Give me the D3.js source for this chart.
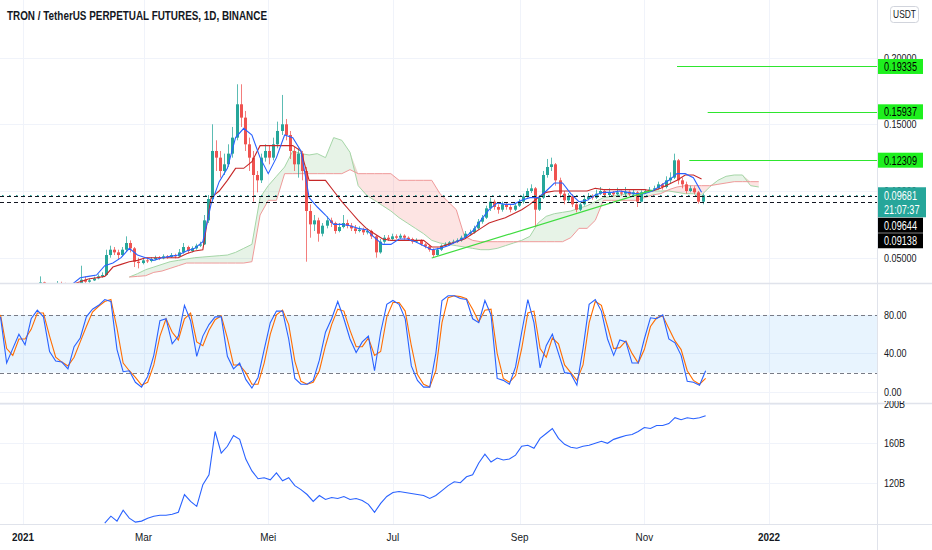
<!DOCTYPE html>
<html><head><meta charset="utf-8">
<script src="https://cdn.jsdelivr.net/npm/d3@7/dist/d3.min.js"></script>
<style>html,body{margin:0;padding:0;background:#fff}svg{display:block}text{font-family:"Liberation Sans",Arial,sans-serif}</style>
</head><body><svg id="c" width="932" height="550"></svg>
<script>
// ---------- DATA ----------
const title = "TRON / TetherUS PERPETUAL FUTURES, 1D, BINANCE";
const currency = "USDT";
// 2-day candles starting 2021-01-01
const firstOpen = 0.0262;
const closes = [
.0267,.0290,.0280,.0300,.0315,.0275,.0285,.0295,.0310,.0305,
.0285,.0280,.0295,.0300,.0335,.0320,.0330,.0345,.0360,.0370,
.0520,.0560,.0540,.0520,.0560,.0610,.0570,.0470,.0460,.0480,
.0475,.0490,.0500,.0495,.0510,.0505,.0520,.0510,.0540,.0580,
.0550,.0570,.0590,.0600,.0780,.0940,.1300,.1250,.1150,.1200,
.1280,.1400,.1650,.1550,.1350,.1250,.1120,.1080,.1250,.1300,
.1250,.1350,.1450,.1500,.1420,.1300,.1200,.1280,.1150,.0850,
.0750,.0780,.0680,.0740,.0780,.0760,.0700,.0730,.0760,.0740,
.0720,.0700,.0710,.0690,.0700,.0660,.0540,.0620,.0650,.0640,
.0660,.0650,.0665,.0650,.0640,.0620,.0630,.0600,.0585,.0560,
.0520,.0560,.0590,.0600,.0615,.0620,.0630,.0650,.0680,.0690,
.0720,.0770,.0800,.0870,.0920,.0880,.0860,.0900,.0880,.0860,
.0890,.0920,.0960,.1000,.1020,.0860,.0950,.1120,.1180,.1200,
.1080,.0980,.0930,.0960,.0900,.0860,.0900,.0940,.0960,.0950,
.0980,.1000,.0970,.0990,.0975,.0990,.0980,.0995,.0975,.0990,
.0920,.0990,.1000,.1010,.1020,.1050,.1030,.1080,.1100,.1230,
.1080,.1050,.1000,.1020,.0990,.0920,.0968];
const highs = [
.0285,.0300,.0298,.0310,.0360,.0320,.0295,.0305,.0325,.0320,
.0312,.0292,.0302,.0310,.0440,.0360,.0345,.0358,.0375,.0390,
.0560,.0590,.0580,.0560,.0580,.0660,.0630,.0580,.0500,.0495,
.0500,.0505,.0515,.0512,.0525,.0520,.0535,.0530,.0565,.0610,
.0590,.0585,.0605,.0620,.0820,.0970,.1500,.1380,.1300,.1280,
.1350,.1480,.1800,.1800,.1600,.1400,.1300,.1150,.1280,.1350,
.1340,.1400,.1520,.1720,.1540,.1450,.1330,.1320,.1300,.1180,
.0900,.0820,.0800,.0760,.0810,.0800,.0770,.0760,.0820,.0785,
.0760,.0745,.0735,.0725,.0720,.0710,.0670,.0640,.0670,.0670,
.0680,.0675,.0680,.0675,.0660,.0650,.0645,.0638,.0610,.0595,
.0570,.0575,.0600,.0615,.0625,.0635,.0645,.0665,.0700,.0710,
.0740,.0790,.0820,.0890,.0950,.0935,.0900,.0920,.0915,.0895,
.0905,.0940,.0980,.1020,.1050,.1030,.0970,.1150,.1240,.1250,
.1210,.1100,.1000,.0985,.0975,.0920,.0915,.0955,.0985,.0975,
.1010,.1030,.1010,.1020,.1000,.1025,.1005,.1030,.1005,.1010,
.1000,.1005,.1015,.1030,.1040,.1070,.1060,.1110,.1140,.1280,
.1240,.1100,.1070,.1040,.1035,.1000,.0980];
const lows = [
.0255,.0262,.0272,.0275,.0295,.0260,.0268,.0280,.0290,.0295,
.0275,.0265,.0275,.0288,.0295,.0310,.0312,.0325,.0338,.0350,
.0365,.0500,.0520,.0490,.0510,.0550,.0540,.0430,.0420,.0450,
.0460,.0465,.0480,.0482,.0488,.0492,.0498,.0495,.0505,.0530,
.0535,.0540,.0560,.0580,.0595,.0760,.0920,.1150,.1100,.1120,
.1180,.1250,.1380,.1480,.1300,.1150,.0920,.0990,.1060,.1220,
.1200,.1230,.1320,.1420,.1380,.1240,.1150,.1100,.1080,.0470,
.0650,.0700,.0620,.0660,.0720,.0730,.0680,.0690,.0720,.0720,
.0700,.0680,.0690,.0670,.0675,.0640,.0500,.0530,.0605,.0625,
.0630,.0638,.0640,.0635,.0628,.0605,.0610,.0590,.0570,.0545,
.0500,.0515,.0550,.0580,.0590,.0605,.0610,.0620,.0640,.0665,
.0680,.0710,.0755,.0790,.0850,.0860,.0830,.0845,.0860,.0840,
.0850,.0880,.0905,.0950,.0985,.0730,.0850,.0940,.1100,.1150,
.1040,.0950,.0900,.0910,.0880,.0840,.0850,.0890,.0930,.0935,
.0940,.0970,.0955,.0960,.0960,.0965,.0965,.0970,.0960,.0965,
.0880,.0915,.0980,.0990,.1000,.1010,.1010,.1020,.1060,.1090,
.1050,.1020,.0980,.0990,.0975,.0905,.0900];
// Ichimoku conversion / base lines, every 4 days from day 20
const tenkan = [
.030,.030,.035,.036,.037,.044,.046,.050,.057,.052,
.050,.048,.050,.051,.052,.055,.057,.062,.090,.107,
.117,.140,.147,.142,.125,.113,.125,.142,.140,.130,
.095,.088,.082,.075,.075,.074,.072,.071,.065,.060,
.060,.064,.064,.062,.059,.056,.057,.059,.062,.065,
.070,.078,.086,.091,.090,.090,.093,.095,.095,.100,
.106,.106,.098,.092,.093,.097,.099,.099,.100,.099,
.098,.098,.100,.104,.108,.113,.113,.110,.099];
const kijun = [
.030,.030,.032,.034,.035,.036,.043,.045,.047,.048,
.050,.050,.050,.050,.050,.053,.055,.056,.095,.100,
.108,.117,.117,.122,.134,.134,.134,.134,.134,.130,
.108,.108,.108,.100,.092,.085,.078,.072,.068,.064,
.063,.063,.063,.063,.063,.058,.058,.060,.062,.064,
.068,.072,.076,.078,.080,.083,.086,.090,.095,.099,
.100,.100,.100,.100,.100,.102,.101,.101,.101,.101,
.101,.101,.100,.102,.105,.108,.112,.112,.109];
// Leading spans (already displaced), every 4 days from day 52
const spanA = [
.0355,.038,.041,.043,.045,.047,.048,.049,.050,.0505,
.051,.0515,.052,.054,.057,.060,.095,.104,.111,.118,
.130,.128,.127,.128,.125,.140,.138,.129,.104,.097,
.093,.089,.085,.080,.076,.072,.068,.063,.061,.060,
.059,.058,.057,.056,.056,.057,.059,.061,.063,.066,
.076,.081,.083,.084,.085,.087,.089,.092,.095,.096,
.097,.098,.098,.099,.100,.100,.100,.099,.098,.098,
.097,.103,.108,.111,.112,.112,.104,.103];
const spanB = [
.0355,.036,.0365,.039,.040,.042,.044,.046,.046,.046,
.046,.046,.046,.046,.046,.047,.082,.093,.093,.113,
.113,.113,.113,.113,.113,.113,.113,.116,.113,.113,
.113,.113,.113,.108,.108,.108,.108,.108,.098,.092,
.086,.066,.063,.062,.062,.062,.062,.062,.062,.062,
.062,.062,.062,.062,.065,.072,.072,.078,.093,.093,
.093,.093,.093,.095,.097,.098,.101,.103,.104,.104,
.104,.104,.105,.106,.107,.107,.107,.107];
// Stochastic, every 3 days from day -11
const stochK = [
78,30,45,60,49,76,85,78,42,32,
31,24,47,56,78,86,90,96,94,44,
21,22,10,5,16,38,74,76,50,58,
90,74,37,58,70,78,78,37,24,30,
13,4,15,44,72,84,84,55,14,8,
8,12,33,62,76,94,76,55,41,52,
58,22,62,91,95,91,76,27,12,5,
5,40,95,100,100,97,96,76,72,95,
80,14,12,8,26,62,96,72,25,48,
60,40,20,19,7,45,91,96,84,55,
38,54,52,30,30,55,77,76,80,55,
51,38,11,10,7,22];
const stochD = [
80,45,38,55,55,65,82,82,58,36,
31,27,36,52,68,83,89,94,96,66,
30,22,15,7,10,28,58,76,62,54,
76,82,52,48,64,75,79,56,28,28,
20,8,8,30,60,80,85,70,32,11,
8,10,22,48,70,86,84,64,47,47,
56,38,42,78,93,93,84,48,18,8,
5,22,72,98,100,99,97,86,73,85,
86,40,14,10,17,45,82,84,45,36,
56,50,28,20,12,28,72,94,90,68,
45,46,53,40,30,44,68,77,79,66,
53,44,22,12,8,14];
// lower pane line (billions), every 3 days from day 40
const obv = [
79,86,81,92,84,80,81,84,86,87,
87,88,90,108,101,96,118,128,172,150,
157,168,164,144,132,124,125,123,130,122,
125,117,113,108,101,107,103,105,104,106,
103,104,102,98,90,99,106,110,111,110,
109,108,107,104,107,112,117,121,120,126,
128,140,149,141,145,143,144,148,157,158,
155,165,170,175,165,159,156,155,157,158,
160,162,160,164,166,168,169,172,176,175,
178,178,180,186,184,186,185,186,188];
const priceTicks = [0.05, 0.10, 0.15, 0.20];
const stochTicks = [0, 40, 80];
const stochBand = [20, 80];
const obvTicks = [120, 160, 200];
const monthDates = ["2021-01-01","2021-03-01","2021-05-01","2021-07-01","2021-09-01","2021-11-01","2022-01-01"];
const monthLabels = ["2021","Mar","Mei","Jul","Sep","Nov","2022"];
const levels = [0.19335, 0.15937, 0.12309];
const levelStarts = ["2021-11-17","2021-12-02","2021-11-23"];
const trendDates = ["2021-07-20","2021-11-05"];
const trendPrices = [0.0498, 0.1007];
const lastPrice = 0.09681;
const countdown = "21:07:37";
const markLines = [0.09644, 0.09138];

// ---------- SETUP ----------
const svg = d3.select("#c");
const PR = 877;
const D0 = Date.UTC(2021,0,1), DAY = 864e5;
const dd = d => new Date(D0 + d*DAY);
const pd = d3.utcParse("%Y-%m-%d");
const x = d3.scaleUtc().domain([dd(0), dd(365)]).range([23, 769]);
const yP = d3.scaleLinear().domain([0.05, 0.20]).range([257.7, 57.6]);
const yS = d3.scaleLinear().domain([0, 100]).range([391.9, 295.7]);
const yO = d3.scaleLinear().domain([120, 160]).range([482.7, 443.3]);
const P = {top:0, bot:283}, S = {top:283, bot:403}, O = {top:403, bot:524};
const UP = "#26a69a", DN = "#ef5350", TXT = "#131722";
const AX = 11; // axis font size

svg.append("rect").attr("width",932).attr("height",550).attr("fill","#fff");
const defs = svg.append("defs");
function clip(id,x0,y0,w,h){defs.append("clipPath").attr("id",id).append("rect").attr("x",x0).attr("y",y0).attr("width",w).attr("height",h);}
clip("cP",0,P.top,PR,P.bot-P.top);
clip("cS",0,S.top,PR,S.bot-S.top);
clip("cO",0,O.top,PR,O.bot-O.top);
clip("cOA",PR,O.top-2,60,O.bot-O.top+2);

// ---------- GRID ----------
const grid = svg.append("g").attr("stroke","#f0f3fa").attr("stroke-width",1);
monthDates.forEach(s => {
  const xx = Math.round(x(pd(s))) + .5;
  grid.append("line").attr("x1",xx).attr("x2",xx).attr("y1",0).attr("y2",O.bot);
});
priceTicks.forEach(v => { const yy = Math.round(yP(v))+.5; grid.append("line").attr("x1",0).attr("x2",PR).attr("y1",yy).attr("y2",yy); });
stochTicks.filter(v=>v!==80).forEach(v => { const yy = Math.round(yS(v))+.5; grid.append("line").attr("x1",0).attr("x2",PR).attr("y1",yy).attr("y2",yy); });
obvTicks.forEach(v => { const yy = Math.round(yO(v))+.5; grid.append("line").attr("x1",0).attr("x2",PR).attr("y1",yy).attr("y2",yy).attr("clip-path","url(#cO)"); });

// ---------- PRICE PANE ----------
const gP = svg.append("g").attr("clip-path","url(#cP)");
const spanPts = spanA.map((a,i) => ({d: dd(52+4*i), a, b: spanB[i]}));
gP.append("path").attr("d", d3.area().x(p=>x(p.d)).y0(p=>yP(p.b)).y1(p=>yP(Math.max(p.a,p.b)))(spanPts)).attr("fill","rgba(67,160,71,0.13)");
gP.append("path").attr("d", d3.area().x(p=>x(p.d)).y0(p=>yP(p.a)).y1(p=>yP(Math.max(p.a,p.b)))(spanPts)).attr("fill","rgba(244,67,54,0.14)");
const lineFrom = (arr, start, step, ys) => d3.line().x((v,i)=>x(dd(start+step*i))).y(v=>ys(v))(arr);
gP.append("path").attr("d", lineFrom(spanA,52,4,yP)).attr("fill","none").attr("stroke","#a5d6a7").attr("stroke-width",1);
gP.append("path").attr("d", lineFrom(spanB,52,4,yP)).attr("fill","none").attr("stroke","#ef9a9a").attr("stroke-width",1);

const candles = closes.map((c,i) => ({date: dd(2*i+0.5), o: i ? closes[i-1] : firstOpen, c, h: highs[i], l: lows[i]}));
gP.selectAll("line.wick").data(candles).join("line").attr("class","wick")
  .attr("x1", d=>Math.round(x(d.date))+.5).attr("x2", d=>Math.round(x(d.date))+.5)
  .attr("y1", d=>yP(d.h)).attr("y2", d=>yP(d.l))
  .attr("stroke", d=>d.c>=d.o?UP:DN).attr("stroke-opacity",0.75).attr("stroke-width",1);
gP.selectAll("rect.body").data(candles).join("rect").attr("class","body")
  .attr("x", d=>Math.round(x(d.date))-1).attr("width",3)
  .attr("y", d=>yP(Math.max(d.o,d.c))).attr("height", d=>Math.max(1, Math.abs(yP(d.o)-yP(d.c))))
  .attr("fill", d=>d.c>=d.o?UP:DN);

gP.append("path").attr("d", lineFrom(kijun,20,4,yP)).attr("fill","none").attr("stroke","#c62828").attr("stroke-width",1.1);
gP.append("path").attr("d", lineFrom(tenkan,20,4,yP)).attr("fill","none").attr("stroke","#2962ff").attr("stroke-width",1.1);

// trend line and level rays
gP.append("line").attr("x1",x(pd(trendDates[0]))).attr("y1",yP(trendPrices[0]))
  .attr("x2",x(pd(trendDates[1]))).attr("y2",yP(trendPrices[1])).attr("stroke","#3fdc3f").attr("stroke-width",1.2);
levels.forEach((v,i) => {
  const yy = Math.round(yP(v))+.5;
  gP.append("line").attr("x1",x(pd(levelStarts[i]))).attr("x2",PR).attr("y1",yy).attr("y2",yy).attr("stroke","#2ee62e").attr("stroke-width",1);
});
// horizontal marker lines
markLines.forEach(v => {
  const yy = Math.round(yP(v))+.5;
  gP.append("line").attr("x1",0).attr("x2",PR).attr("y1",yy).attr("y2",yy).attr("stroke",TXT).attr("stroke-width",1).attr("stroke-dasharray","4,3");
});
{
  const yy = Math.round(yP(lastPrice))+.5;
  gP.append("line").attr("x1",2).attr("x2",PR).attr("y1",yy).attr("y2",yy).attr("stroke",UP).attr("stroke-width",1).attr("stroke-dasharray","1.5,5.5");
}

// ---------- STOCH PANE ----------
const gS = svg.append("g").attr("clip-path","url(#cS)");
gS.append("rect").attr("x",0).attr("width",PR).attr("y",yS(stochBand[1])).attr("height",yS(stochBand[0])-yS(stochBand[1])).attr("fill","rgba(33,150,243,0.1)");
stochBand.forEach(v => { const yy = Math.round(yS(v))+.5;
  gS.append("line").attr("x1",0).attr("x2",PR).attr("y1",yy).attr("y2",yy).attr("stroke","#787b86").attr("stroke-dasharray","4,3").attr("stroke-width",1); });
gS.append("path").attr("d", lineFrom(stochD,-11,3,yS)).attr("fill","none").attr("stroke","#ff6d00").attr("stroke-width",1.1);
gS.append("path").attr("d", lineFrom(stochK,-11,3,yS)).attr("fill","none").attr("stroke","#2962ff").attr("stroke-width",1.1);

// ---------- LOWER PANE ----------
const gO = svg.append("g").attr("clip-path","url(#cO)");
gO.append("path").attr("d", lineFrom(obv,40,3,yO)).attr("fill","none").attr("stroke","#2962ff").attr("stroke-width",1.1);

// ---------- FRAME ----------
const frame = svg.append("g").attr("stroke","#e0e3eb");
frame.append("line").attr("x1",0).attr("x2",932).attr("y1",P.bot+.5).attr("y2",P.bot+.5).attr("stroke-width",1.5);
frame.append("line").attr("x1",0).attr("x2",932).attr("y1",S.bot+.5).attr("y2",S.bot+.5).attr("stroke-width",1.5);
frame.append("line").attr("x1",0).attr("x2",932).attr("y1",O.bot+.5).attr("y2",O.bot+.5).attr("stroke-width",1);
frame.append("line").attr("x1",PR+.5).attr("x2",PR+.5).attr("y1",0).attr("y2",550).attr("stroke-width",1);

// ---------- TEXT ----------
function sq(sel,k){ sel.each(function(){ const w=this.getComputedTextLength(); d3.select(this).attr("textLength",w*k).attr("lengthAdjust","spacingAndGlyphs"); }); }

svg.append("text").attr("x",7).attr("y",19.5).attr("font-size",12).attr("font-weight","bold").attr("fill",TXT)
  .attr("textLength",260).attr("lengthAdjust","spacingAndGlyphs").text(title);

const ub = svg.append("g");
ub.append("rect").attr("x",890.5).attr("y",6.5).attr("width",28).attr("height",16).attr("rx",3).attr("fill","#fff").attr("stroke","#d1d4dc");
sq(ub.append("text").attr("x",904.5).attr("y",18.3).attr("text-anchor","middle").attr("font-size",10.5).attr("fill",TXT).text(currency),0.8);

const fmtP = d3.format(".5f"), fmtS = d3.format(".2f");
const axP = svg.append("g");
priceTicks.forEach(v => sq(axP.append("text").attr("x",884).attr("y",yP(v)).attr("dy","0.36em").attr("font-size",AX).attr("fill",TXT).text(fmtP(v)),0.82));
stochTicks.forEach(v => sq(axP.append("text").attr("x",884).attr("y",yS(v)).attr("dy","0.36em").attr("font-size",AX).attr("fill",TXT).text(fmtS(v)),0.82));
const axO = svg.append("g").attr("clip-path","url(#cOA)");
obvTicks.forEach(v => sq(axO.append("text").attr("x",884).attr("y",yO(v)).attr("dy","0.36em").attr("font-size",AX).attr("fill",TXT).text(v+"B"),0.82));

// bottom time axis labels
monthDates.forEach((s,i) => {
  const t = svg.append("text").attr("x",x(pd(s))).attr("y",541).attr("text-anchor","middle").attr("font-size",11.5)
    .attr("font-weight", /^\d+$/.test(monthLabels[i]) ? "bold" : "normal").attr("fill",TXT).text(monthLabels[i]);
  sq(t,0.86);
});

// level labels
levels.forEach(v => {
  const yy = yP(v);
  svg.append("rect").attr("x",PR+1).attr("y",yy-7.5).attr("width",45).attr("height",15).attr("fill","#1ef01e");
  sq(svg.append("text").attr("x",884).attr("y",yy).attr("dy","0.36em").attr("font-size",12).attr("fill","#000").text(fmtP(v)),0.76);
});
// last price label
const ly = yP(lastPrice) - 8;
svg.append("rect").attr("x",PR+1).attr("y",ly).attr("width",48).attr("height",30).attr("fill",UP);
sq(svg.append("text").attr("x",884).attr("y",ly+8).attr("dy","0.36em").attr("font-size",12).attr("fill","#fff").text(fmtP(lastPrice)),0.76);
sq(svg.append("text").attr("x",884).attr("y",ly+22).attr("dy","0.36em").attr("font-size",12).attr("fill","#fff").text(countdown),0.76);
markLines.forEach((v,i) => {
  const top = ly + 30.5 + i*15.5;
  svg.append("rect").attr("x",PR+1).attr("y",top).attr("width",45).attr("height",15).attr("fill","#000");
  sq(svg.append("text").attr("x",884).attr("y",top+7.5).attr("dy","0.36em").attr("font-size",12).attr("fill","#fff").text(fmtP(v)),0.76);
});
</script></body></html>
